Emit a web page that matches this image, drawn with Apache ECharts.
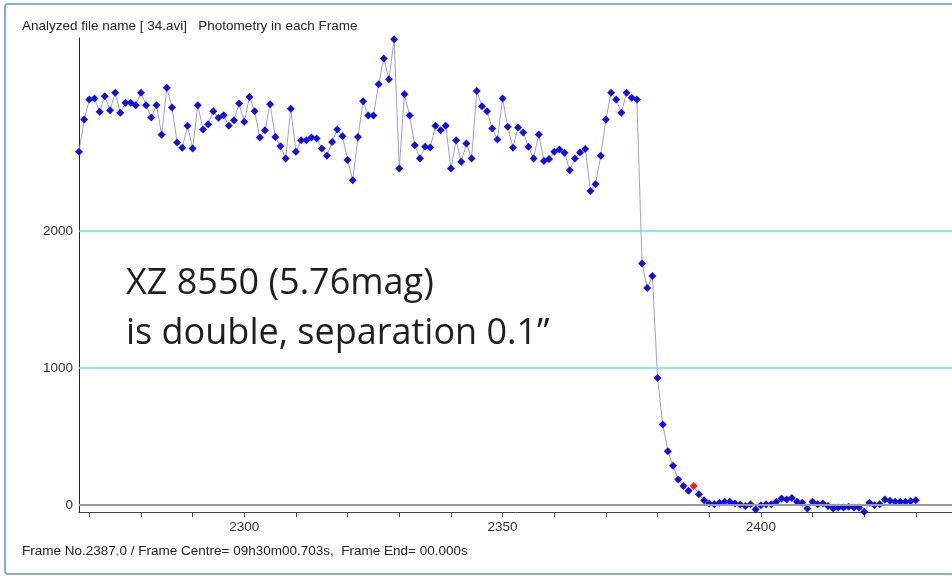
<!DOCTYPE html>
<html>
<head>
<meta charset="utf-8">
<script src="https://cdn.jsdelivr.net/npm/echarts@6/dist/echarts.min.js"></script>
<style>
  html, body { margin: 0; padding: 0; background: #fff; }
  #chart { width: 952px; height: 576px; }
</style>
</head>
<body>
<div id="chart"></div>
<script>
// frame numbers (x) and photometry values (y)
const frames = [
  2268, 2269, 2270, 2271, 2272, 2273, 2274, 2275, 2276, 2277,
  2278, 2279, 2280, 2281, 2282, 2283, 2284, 2285, 2286, 2287,
  2288, 2289, 2290, 2291, 2292, 2293, 2294, 2295, 2296, 2297,
  2298, 2299, 2300, 2301, 2302, 2303, 2304, 2305, 2306, 2307,
  2308, 2309, 2310, 2311, 2312, 2313, 2314, 2315, 2316, 2317,
  2318, 2319, 2320, 2321, 2322, 2323, 2324, 2325, 2326, 2327,
  2328, 2329, 2330, 2331, 2332, 2333, 2334, 2335, 2336, 2337,
  2338, 2339, 2340, 2341, 2342, 2343, 2344, 2345, 2346, 2347,
  2348, 2349, 2350, 2351, 2352, 2353, 2354, 2355, 2356, 2357,
  2358, 2359, 2360, 2361, 2362, 2363, 2364, 2365, 2366, 2367,
  2368, 2369, 2370, 2371, 2372, 2373, 2374, 2375, 2376, 2377,
  2378, 2379, 2380, 2381, 2382, 2383, 2384, 2385, 2386, 2387,
  2388, 2389, 2390, 2391, 2392, 2393, 2394, 2395, 2396, 2397,
  2398, 2399, 2400, 2401, 2402, 2403, 2404, 2405, 2406, 2407,
  2408, 2409, 2410, 2411, 2412, 2413, 2414, 2415, 2416, 2417,
  2418, 2419, 2420, 2421, 2422, 2423, 2424, 2425, 2426, 2427,
  2428, 2429, 2430
]

const brightness = [
  2579, 2815, 2961, 2968, 2871, 2985, 2883, 3010, 2864, 2937,
  2937, 2920, 3010, 2920, 2830, 2920, 2703, 3046, 2903, 2647,
  2608, 2769, 2604, 2920, 2742, 2781, 2876, 2827, 2847, 2769,
  2810, 2932, 2798, 2980, 2876, 2684, 2737, 2927, 2688, 2620,
  2531, 2893, 2579, 2664, 2664, 2684, 2676, 2604, 2550, 2650,
  2742, 2693, 2520, 2372, 2688, 2949, 2844, 2844, 3073, 3260,
  3109, 3401, 2457, 3000, 2844, 2628, 2531, 2616, 2611, 2769,
  2737, 2769, 2457, 2664, 2506, 2640, 2531, 3024, 2912, 2876,
  2749, 2669, 2968, 2762, 2608, 2757, 2720, 2616, 2531, 2706,
  2513, 2526, 2579, 2596, 2572, 2445, 2531, 2574, 2599, 2294,
  2343, 2550, 2815, 3010, 2961, 2864, 3010, 2973, 2961, 1764,
  1586, 1672, 929, 589, 394, 287, 188, 139, 105, 139,
  80, 36, 12, 7, 17, 24, 24, 12, 5, -7,
  7, -32, 0, 7, 7, 24, 49, 41, 53, 24,
  17, -24, 24, 7, 12, -7, -24, -17, -17, -12,
  -17, -17, -49, 17, 0, 7, 41, 32, 24, 24,
  24, 29, 36
]

const currentFrame = 2387

const xTicks = [2270, 2280, 2290, 2300, 2310, 2320, 2330, 2340, 2350, 2360,
  2370, 2380, 2390, 2400, 2410, 2420, 2430]
const xLabels = [2300, 2350, 2400]
const yLabels = [0, 1000, 2000]
const guideLines = [1000, 2000]

const points = frames.map((f, i) => {
  const item = { value: [f, brightness[i]] }
  if (f === currentFrame) item.itemStyle = { color: '#ff1a1a' }
  return item
})

const smallFont = '"Liberation Sans", Arial, sans-serif'
const bigFont = '36px "Open Sans", sans-serif'

const chart = echarts.init(document.getElementById('chart'))
chart.setOption({
  animation: false,
  backgroundColor: '#fff',
  grid: { left: 79, right: 0, top: 38, bottom: 64 },
  xAxis: {
    type: 'value',
    min: 2268,
    max: 2437,
    axisLine: { onZero: false, lineStyle: { color: '#444', width: 1 } },
    axisTick: { customValues: xTicks, length: 5, lineStyle: { color: '#444' } },
    axisLabel: {
      customValues: xLabels,
      formatter: v => String(v),
      color: '#333', fontSize: 13.5, fontFamily: smallFont, margin: 8
    },
    splitLine: { show: false }
  },
  yAxis: {
    type: 'value',
    min: -50,
    max: 3410,
    axisLine: { show: true, onZero: false, lineStyle: { color: '#222', width: 1 } },
    axisTick: { show: false },
    axisLabel: {
      customValues: yLabels,
      formatter: v => String(v),
      color: '#333', fontSize: 13.5, fontFamily: smallFont, margin: 6
    },
    splitLine: { show: false }
  },
  series: [
    {
      type: 'line',
      data: points,
      symbol: 'diamond',
      symbolSize: 8,
      showAllSymbol: true,
      lineStyle: { color: '#9c9ee0', width: 1 },
      itemStyle: { color: '#1010e6' },
      markLine: {
        silent: true,
        symbol: 'none',
        label: { show: false },
        data: [
          { yAxis: 0, lineStyle: { color: '#9a9a9a', width: 2, type: 'solid' } },
          ...guideLines.map(v => ({ yAxis: v, lineStyle: { color: '#5fe3ea', width: 1.5, type: 'solid' } }))
        ]
      }
    }
  ],
  graphic: [
    {
      type: 'rect',
      shape: { x: 5, y: 4, width: 980, height: 570, r: 3 },
      style: { fill: 'none', stroke: '#86aee6', lineWidth: 2 },
      silent: true
    },
    {
      type: 'text',
      left: 22,
      top: 19,
      style: { text: 'Analyzed file name [ 34.avi]   Photometry in each Frame', fill: '#222', font: '13.5px ' + smallFont }
    },
    {
      type: 'text',
      left: 22,
      top: 544,
      style: { text: 'Frame No.2387.0 / Frame Centre= 09h30m00.703s,  Frame End= 00.000s', fill: '#222', font: '13.5px ' + smallFont }
    },
    {
      type: 'text',
      left: 126,
      top: 266,
      style: { text: 'XZ 8550 (5.76mag)', fill: '#1e1e1e', font: bigFont }
    },
    {
      type: 'text',
      left: 126,
      top: 316,
      style: { text: 'is double, separation 0.1\u201d', fill: '#1e1e1e', font: bigFont }
    }
  ]
})
</script>
</body>
</html>
